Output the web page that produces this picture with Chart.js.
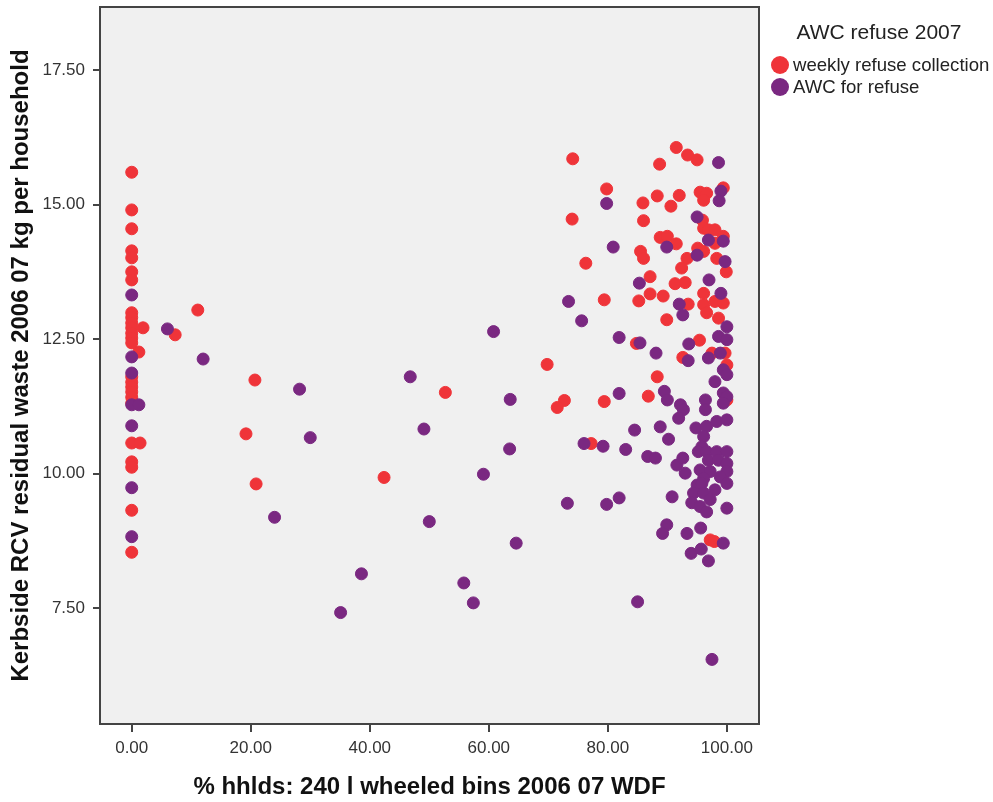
<!DOCTYPE html>
<html>
<head>
<meta charset="utf-8">
<script src="https://cdn.jsdelivr.net/npm/chart.js@4"></script>
<style>
  body { margin: 0; background: #fff; }
</style>
</head>
<body>
<canvas id="scatterChart" width="993" height="802"></canvas>
<script>
// [% hhlds with 240 l wheeled bins, kerbside residual waste kg per household]
const weeklyPoints = [
    [0, 15.60], [0, 14.90], [0, 14.55], [0, 14.14], [0, 14.01], [0, 13.75], [0, 13.60], [0, 12.99], [0, 12.90],
    [0, 12.80], [0, 12.71], [0, 12.61], [0, 12.52], [0, 12.43], [1.9, 12.71], [1.2, 12.26], [0, 11.80], [0, 11.70],
    [0, 11.61], [0, 11.52], [0, 11.42], [0, 11.31], [0, 10.57], [1.4, 10.57], [0, 10.22], [0, 10.12], [0, 9.32], [0, 8.54],
    [11.1, 13.04], [7.3, 12.58], [20.7, 11.74], [52.7, 11.51], [19.2, 10.74], [20.9, 9.81], [42.4, 9.93],
    [79.4, 13.23], [84.8, 12.42], [69.8, 12.03], [72.7, 11.36], [71.5, 11.23], [79.4, 11.34], [77.2, 10.56],
    [91.5, 16.06], [93.4, 15.92], [95.0, 15.83], [88.7, 15.75], [74.1, 15.85], [79.8, 15.29], [99.4, 15.31], [95.5, 15.23],
    [96.6, 15.21], [96.1, 15.08], [88.3, 15.16], [92.0, 15.17], [85.9, 15.03], [90.6, 14.97], [74.0, 14.73], [86.0, 14.70],
    [95.9, 14.71], [96.1, 14.56], [96.9, 14.53], [98.0, 14.53], [99.4, 14.41], [88.8, 14.39], [90.0, 14.41], [91.5, 14.27],
    [98.0, 14.28], [95.1, 14.19], [96.1, 14.13], [98.3, 14.00], [99.9, 13.75], [85.5, 14.13], [86.0, 14.00], [93.3, 14.00],
    [92.4, 13.82], [76.3, 13.91], [87.1, 13.66], [91.3, 13.53], [93.0, 13.55], [96.1, 13.35], [87.1, 13.34], [89.3, 13.30],
    [85.2, 13.21], [93.5, 13.15], [96.1, 13.14], [98.0, 13.20], [99.4, 13.17], [96.6, 12.99], [98.6, 12.89], [89.9, 12.86],
    [95.4, 12.48], [92.6, 12.16], [97.5, 12.24], [99.7, 12.24], [100, 12.02], [88.3, 11.80], [86.8, 11.44], [100, 11.37],
    [97.2, 8.77], [97.9, 8.74]
];

const awcPoints = [
    [0, 13.32], [0, 12.17], [0, 11.87], [0, 11.28], [1.2, 11.28], [0, 10.89], [0, 9.74], [0, 8.83],
    [6.0, 12.69], [12.0, 12.13], [28.2, 11.57], [46.8, 11.80], [30.0, 10.67], [49.1, 10.83], [24.0, 9.19], [50.0, 9.11],
    [38.6, 8.14], [35.1, 7.42],
    [73.4, 13.20], [75.6, 12.84], [60.8, 12.64], [81.9, 12.53], [85.4, 12.43], [63.6, 11.38], [81.9, 11.49], [84.5, 10.81],
    [76.0, 10.56], [79.2, 10.51], [83.0, 10.45], [63.5, 10.46], [59.1, 9.99], [81.9, 9.55], [73.2, 9.45], [79.8, 9.43],
    [64.6, 8.71], [55.8, 7.97], [57.4, 7.60], [85.0, 7.62],
    [98.6, 15.78], [79.8, 15.02], [99.0, 15.25], [98.7, 15.07], [95.0, 14.77], [96.9, 14.34], [99.4, 14.32], [89.9, 14.21],
    [95.0, 14.06], [99.7, 13.94], [80.9, 14.21], [85.3, 13.54], [97.0, 13.60], [99.0, 13.35], [92.0, 13.15], [92.6, 12.95],
    [100, 12.73], [98.6, 12.55], [100, 12.49], [93.6, 12.41], [88.1, 12.24], [93.5, 12.10], [96.9, 12.15], [98.9, 12.24],
    [99.4, 11.93], [100, 11.84], [98.0, 11.71], [89.5, 11.53], [90.0, 11.37], [92.2, 11.28], [92.7, 11.19], [91.9, 11.03],
    [96.4, 11.37], [96.4, 11.19], [99.4, 11.50], [100, 11.43], [99.4, 11.31], [88.8, 10.87], [90.2, 10.64], [94.8, 10.85],
    [96.6, 10.88], [98.3, 10.97], [100, 11.00], [96.1, 10.69], [95.8, 10.50], [95.2, 10.41], [96.6, 10.41], [98.3, 10.41],
    [100, 10.41], [96.9, 10.25], [98.6, 10.25], [100, 10.19], [95.5, 10.07], [97.2, 10.04], [100, 10.04], [98.9, 9.94],
    [96.1, 9.91], [100, 9.82], [91.6, 10.16], [93.0, 10.01], [92.6, 10.29], [86.7, 10.32], [88.0, 10.29], [90.8, 9.57],
    [95.0, 9.79], [95.8, 9.82], [94.4, 9.64], [96.1, 9.64], [98.0, 9.70], [97.2, 9.52], [94.1, 9.46], [95.5, 9.39],
    [96.6, 9.29], [100, 9.36],
    [89.9, 9.05], [89.2, 8.89], [93.3, 8.89], [95.6, 8.99], [99.4, 8.71], [94.0, 8.52], [95.7, 8.60], [96.9, 8.38], [97.5, 6.55]
];

const xTicks = [0, 20, 40, 60, 80, 100];
const yTicks = [7.5, 10, 12.5, 15, 17.5];

const legendTitle = 'AWC refuse 2007';
const xTitle = '% hhlds: 240 l wheeled bins 2006 07 WDF';
const yTitle = 'Kerbside RCV residual waste 2006 07 kg per household';

const redColor = '#ef3439';
const purpleColor = '#7a2881';
const frameColor = '#444';
const fontFamily = "'Liberation Sans', Arial, sans-serif";

let toXY = (pts) => pts.map(p => ({ x: p[0], y: p[1] }));

// grey plot background + frame round the chart area
const plotFrame = {
    id: 'plotFrame',
    beforeDraw(chart) {
        const { ctx, chartArea: a } = chart;
        ctx.save();
        ctx.fillStyle = '#f0f0f0';
        ctx.fillRect(a.left, a.top, a.right - a.left, a.bottom - a.top);
        ctx.restore();
    },
    afterDraw(chart) {
        const { ctx, chartArea: a } = chart;
        ctx.save();
        ctx.strokeStyle = frameColor;
        ctx.lineWidth = 2;
        ctx.strokeRect(a.left, a.top, a.right - a.left, a.bottom - a.top);
        ctx.restore();
    }
};

// legend at the right, SPSS style
const sideLegend = {
    id: 'sideLegend',
    afterDraw(chart) {
        const ctx = chart.ctx;
        ctx.save();
        ctx.fillStyle = '#222';
        ctx.font = '21px ' + fontFamily;
        ctx.textAlign = 'center';
        ctx.textBaseline = 'middle';
        ctx.fillText(legendTitle, 879, 33);
        ctx.font = '18.6px ' + fontFamily;
        ctx.textAlign = 'left';
        // legend order follows the reference: weekly first, then AWC
        let items = chart.data.datasets.slice().sort((a, b) => a.legendIndex - b.legendIndex);
        items.forEach((ds, i) => {
            let y = 65 + i * 22;
            ctx.fillStyle = ds.backgroundColor;
            ctx.beginPath();
            ctx.arc(780, y, 9, 0, Math.PI * 2);
            ctx.fill();
            ctx.fillStyle = '#222';
            ctx.fillText(ds.label, 793, y + 1);
        });
        ctx.restore();
    }
};

let ctx = document.getElementById('scatterChart').getContext('2d');
new Chart(ctx, {
    type: 'scatter',
    data: {
        datasets: [{
            label: 'AWC for refuse',
            legendIndex: 1,
            data: toXY(awcPoints),
            backgroundColor: purpleColor,
            borderColor: purpleColor,
            pointRadius: 6,
            borderWidth: 1,
            order: 0
        }, {
            label: 'weekly refuse collection',
            legendIndex: 0,
            data: toXY(weeklyPoints),
            backgroundColor: redColor,
            borderColor: redColor,
            pointRadius: 6,
            borderWidth: 1,
            order: 1
        }]
    },
    options: {
        responsive: false,
        animation: false,
        layout: { padding: { top: 7, right: 234, left: 0, bottom: 0 } },
        plugins: {
            legend: { display: false },
            tooltip: { enabled: false }
        },
        scales: {
            x: {
                type: 'linear',
                min: -5.33,
                max: 105.4,
                afterFit: (scale) => {
                    scale.height = 78;
                    scale.paddingLeft = 0;
                    scale.paddingRight = 0;
                },
                afterBuildTicks: (scale) => { scale.ticks = xTicks.map(v => ({ value: v })); },
                grid: { drawOnChartArea: false, tickLength: 8, tickColor: frameColor, lineWidth: 2 },
                border: { display: false },
                ticks: {
                    padding: 6,
                    color: '#333',
                    font: { family: fontFamily, size: 17 },
                    callback: (v) => Number(v).toFixed(2)
                },
                title: {
                    display: true,
                    text: xTitle,
                    color: '#111',
                    padding: { top: 0, bottom: 0 },
                    font: { family: fontFamily, size: 24, weight: 'bold' }
                }
            },
            y: {
                type: 'linear',
                min: 5.35,
                max: 18.67,
                afterFit: (scale) => {
                    scale.width = 100;
                    scale.paddingTop = 0;
                    scale.paddingBottom = 0;
                },
                afterBuildTicks: (scale) => { scale.ticks = yTicks.map(v => ({ value: v })); },
                grid: { drawOnChartArea: false, tickLength: 7, tickColor: frameColor, lineWidth: 2 },
                border: { display: false },
                ticks: {
                    padding: 8,
                    color: '#333',
                    font: { family: fontFamily, size: 17 },
                    callback: (v) => Number(v).toFixed(2)
                },
                title: {
                    display: true,
                    text: yTitle,
                    color: '#111',
                    padding: { top: 7, bottom: 0 },
                    font: { family: fontFamily, size: 24, weight: 'bold' }
                }
            }
        }
    },
    plugins: [plotFrame, sideLegend]
});
</script>
</body>
</html>
